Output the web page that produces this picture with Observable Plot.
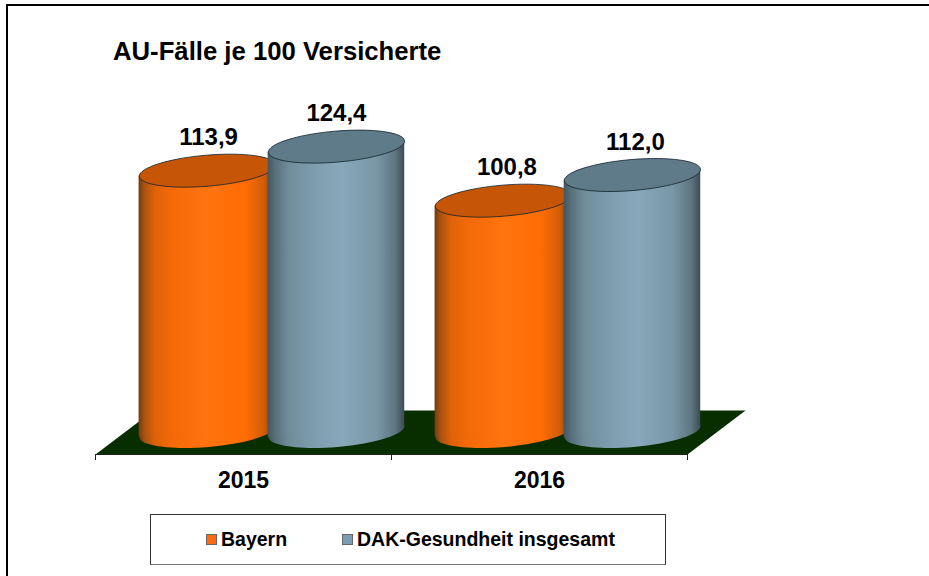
<!DOCTYPE html>
<html lang="de">
<head>
<meta charset="utf-8">
<script src="https://cdn.jsdelivr.net/npm/d3@7"></script>
<script src="https://cdn.jsdelivr.net/npm/@observablehq/plot@0.6"></script>
<style>
  html, body { margin: 0; padding: 0; background: #fff; }
  #page { position: relative; width: 929px; height: 576px; overflow: hidden;
          font-family: "Liberation Sans", Arial, sans-serif; color: #000; }
  #page svg { position: absolute; left: 0; top: 0; }
  #frameTop { position: absolute; left: 6px; top: 4px; right: 0; height: 2px; background: #000; }
  #frameLeft { position: absolute; left: 6px; top: 4px; bottom: 0; width: 2px; background: #000; }
  #title { position: absolute; left: 113px; top: 36px; margin: 0; font-size: 25.7px; font-weight: bold; line-height: 30px; white-space: nowrap; }
  #legend { position: absolute; left: 150px; top: 514px; width: 514px; height: 49px; border: 1px solid #333; border-bottom-color: #777; background: #fff; }
  .sw { position: absolute; top: 19px; width: 9px; height: 9px; border: 1px solid #666; }
  .lb { position: absolute; top: 12px; font-size: 19.5px; font-weight: bold; line-height: 24px; white-space: nowrap; }
</style>
</head>
<body>
<div id="page"></div>
<script>
const titleText = "AU-Fälle je 100 Versicherte";
const years = ["2015", "2016"];
const seriesNames = ["Bayern", "DAK-Gesundheit insgesamt"];
const bayern = [113.9, 100.8];
const dak = [124.4, 112.0];
const labelsBayern = ["113,9", "100,8"];
const labelsDak = ["124,4", "112,0"];

// Ground plane, in chart units (category position, value)
const floorPos = [0, 0.196, 2.196, 2];
const floorVal = [-10.04, 9.17, 9.17, -10.04];

const seriesOffset = [0.378, 0.814];   // cylinder centre within a category
const halfWidth = 0.2307;              // cylinder half-width in category units
const tilt = 2.36;                     // side-edge slope of the cylinder ends, value units
const labelShift = [[0.004, 0], [0.012, 0.01]]; // small label nudge per year and series

// tilted ellipse as a custom dot symbol
function ellipseSymbol(rx, ry, a) {
  const k = 0.5522847;
  const c = Math.cos(a), s = Math.sin(a);
  const p = (x, y) => [x * c + y * s, -x * s + y * c];
  return {
    draw(ctx) {
      const pts = [
        [rx, 0],
        [rx, k * ry], [k * rx, ry], [0, ry],
        [-k * rx, ry], [-rx, k * ry], [-rx, 0],
        [-rx, -k * ry], [-k * rx, -ry], [0, -ry],
        [k * rx, -ry], [rx, -k * ry], [rx, 0]
      ].map(([x, y]) => p(x, y));
      ctx.moveTo(...pts[0]);
      for (let i = 1; i < pts.length; i += 3) {
        ctx.bezierCurveTo(...pts[i], ...pts[i + 1], ...pts[i + 2]);
      }
      ctx.closePath();
    }
  };
}
const disc = ellipseSymbol(68.3, 15.5, 0.085);

const styles = [
  { body: "url(#gradOrange)", top: "#c65506" },
  { body: "url(#gradBlue)", top: "#5f7a88" }
];

const cylinderMarks = [];
const labelRows = [];
years.forEach((year, i) => {
  [bayern, dak].forEach((vals, j) => {
    const c = i + seriesOffset[j];
    const v = vals[i];
    const st = styles[j];
    const side = [
      { x: c - halfWidth, y1: -tilt, y2: v - tilt },
      { x: c + halfWidth, y1: tilt, y2: v + tilt }
    ];
    cylinderMarks.push(
      Plot.dot([{ x: c, y: 0 }], { x: "x", y: "y", r: 10, symbol: disc, fill: st.body, stroke: "none" }),
      Plot.areaY(side, { x: "x", y1: "y1", y2: "y2", fill: st.body, stroke: "none" }),
      Plot.dot([{ x: c, y: v }], { x: "x", y: "y", r: 10, symbol: disc, fill: st.top, stroke: "#10222a", strokeWidth: 0.8 })
    );
    labelRows.push({ x: c + labelShift[i][j], y: v, text: (j === 0 ? labelsBayern : labelsDak)[i] });
  });
});

const chart = Plot.plot({
  width: 929,
  height: 576,
  marginLeft: 95,
  marginRight: 242,
  marginTop: 0,
  marginBottom: 122,
  style: { background: "transparent", fontFamily: '"Liberation Sans", Arial, sans-serif', overflow: "visible" },
  x: { domain: [0, 2], axis: null },
  y: { domain: [-10.04, 188.2], axis: null },
  marks: [
    Plot.line(floorPos.map((p, i) => ({ x: p, y: floorVal[i] })), { x: "x", y: "y", fill: "#082e00", stroke: "none" }),
    Plot.ruleY([-10.04], { x1: 0, x2: 2, stroke: "#222", strokeWidth: 1 }),
    Plot.axisX({ ticks: [0, 1, 2], tickSize: 6, tickFormat: () => "", stroke: "#222", strokeWidth: 1, label: null }),
    Plot.axisX({
      ticks: [0.5, 1.5], tickSize: 0, tickPadding: 17, label: null,
      tickFormat: (d) => years[Math.floor(d)],
      fontSize: 23, fontWeight: "bold", fill: "#000"
    }),
    ...cylinderMarks,
    Plot.text(labelRows, {
      x: "x", y: "y", text: "text", dy: -33,
      fontSize: 24, fontWeight: "bold", fill: "#000"
    })
  ]
});

// gradients used by the cylinder fills
const ns = "http://www.w3.org/2000/svg";
const defs = document.createElementNS(ns, "defs");
function addGradient(id, stops) {
  const g = document.createElementNS(ns, "linearGradient");
  g.setAttribute("id", id);
  g.setAttribute("x1", "0"); g.setAttribute("x2", "1");
  g.setAttribute("y1", "0"); g.setAttribute("y2", "0");
  stops.forEach(([o, col]) => {
    const s = document.createElementNS(ns, "stop");
    s.setAttribute("offset", o);
    s.setAttribute("stop-color", col);
    g.appendChild(s);
  });
  defs.appendChild(g);
}
addGradient("gradOrange", [[0, "#6e3a12"], [0.04, "#a85210"], [0.12, "#e06208"], [0.25, "#f56a08"], [0.5, "#ff740e"], [0.78, "#ff6c04"], [0.92, "#d05c08"], [1, "#6e3a12"]]);
addGradient("gradBlue", [[0, "#43565f"], [0.05, "#566f7a"], [0.15, "#708c99"], [0.35, "#7e9fb0"], [0.55, "#88a8bb"], [0.8, "#7896a5"], [0.93, "#5f7683"], [1, "#3c4c56"]]);
chart.insertBefore(defs, chart.firstChild);

const page = document.getElementById("page");
page.appendChild(chart);

function el(tag, attrs, text) {
  const e = document.createElement(tag);
  Object.assign(e, attrs);
  if (text != null) e.textContent = text;
  return e;
}
page.appendChild(el("div", { id: "frameTop" }));
page.appendChild(el("div", { id: "frameLeft" }));
page.appendChild(el("h1", { id: "title" }, titleText));

const legend = el("div", { id: "legend" });
const swatchColors = ["#ff6a10", "#7c9cb0"];
const swatchLeft = [55, 191];
const labelLeft = [70, 206];
seriesNames.forEach((name, i) => {
  const sw = el("span", { className: "sw" });
  sw.style.left = swatchLeft[i] + "px";
  sw.style.background = swatchColors[i];
  const lb = el("span", { className: "lb" }, name);
  lb.style.left = labelLeft[i] + "px";
  legend.appendChild(sw);
  legend.appendChild(lb);
});
page.appendChild(legend);
</script>
</body>
</html>
